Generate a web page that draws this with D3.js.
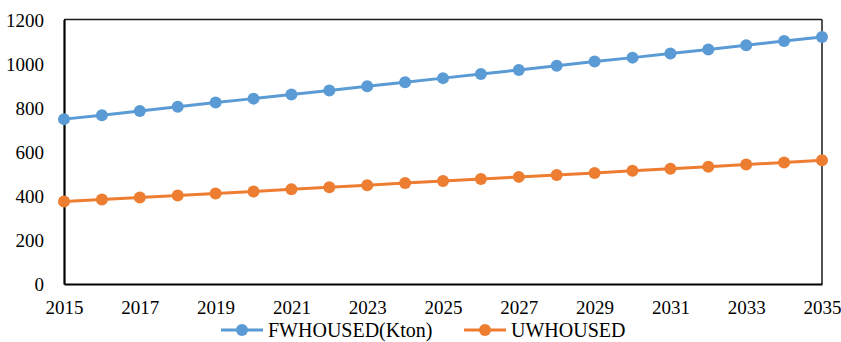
<!DOCTYPE html>
<html>
<head>
<meta charset="utf-8">
<script src="https://cdn.jsdelivr.net/npm/d3@7"></script>
<style>
  html, body { margin: 0; padding: 0; background: #fff; }
  svg { display: block; }
</style>
</head>
<body>
<svg id="chart" width="841" height="342"></svg>
<script>
// Annual series, 2015–2035
const years = d3.range(2015, 2036);
const fwHoused = [748, 766, 785, 804, 823, 841, 860, 878, 897, 915, 934, 953, 971, 990, 1009, 1027, 1046, 1064, 1083, 1102, 1121];
const uwHoused = [374, 383, 392, 402, 411, 420, 430, 439, 448, 458, 467, 476, 486, 495, 504, 514, 523, 532, 542, 551, 561];
const seriesNames = ["FWHOUSED(Kton)", "UWHOUSED"];
const seriesColors = ["#5B9BD5", "#ED7D31"];
const yTicks = [0, 200, 400, 600, 800, 1000, 1200];
const xTicks = d3.range(2015, 2036, 2);

const svg = d3.select("#chart");
const plot = { left: 64, right: 822, top: 19.5, bottom: 284 };
const fontFamily = "Times New Roman, Liberation Serif, serif";

const x = d3.scaleLinear().domain([2015, 2035]).range([plot.left, plot.right]);
const y = d3.scaleLinear().domain([0, 1200]).range([plot.bottom, plot.top]);

// Plot frame
svg.append("line").attr("x1", plot.left).attr("x2", plot.right).attr("y1", plot.top).attr("y2", plot.top)
  .attr("stroke", "#1a1a1a").attr("stroke-width", 1.5);
svg.append("line").attr("x1", plot.right).attr("x2", plot.right).attr("y1", plot.top).attr("y2", plot.bottom)
  .attr("stroke", "#1a1a1a").attr("stroke-width", 1.5);

// Y axis
const yAxis = svg.append("g").attr("transform", `translate(${plot.left},0)`)
  .call(d3.axisLeft(y).tickValues(yTicks).tickSize(0).tickPadding(20).tickFormat(d3.format("d")));
yAxis.attr("font-family", fontFamily).attr("font-size", 19);
yAxis.select(".domain").attr("stroke", "#000").attr("stroke-width", 2.2);
yAxis.selectAll("text").attr("dy", "0.35em").attr("fill", "#000");

// X axis
const xAxis = svg.append("g").attr("transform", `translate(0,${plot.bottom})`)
  .call(d3.axisBottom(x).tickValues(xTicks).tickSize(0).tickPadding(17).tickFormat(d3.format("d")));
xAxis.attr("font-family", fontFamily).attr("font-size", 19);
xAxis.select(".domain").attr("stroke", "#000").attr("stroke-width", 2.2);
xAxis.selectAll("text").attr("fill", "#000");

// Series lines and markers
const allSeries = [fwHoused, uwHoused];
const line = d3.line().x((d, i) => x(years[i])).y(d => y(d));

allSeries.forEach((vals, k) => {
  const g = svg.append("g");
  g.append("path").datum(vals).attr("d", line)
    .attr("fill", "none").attr("stroke", seriesColors[k]).attr("stroke-width", 3);
  g.selectAll("circle").data(vals).join("circle")
    .attr("cx", (d, i) => x(years[i])).attr("cy", d => y(d)).attr("r", 6)
    .attr("fill", seriesColors[k]);
});

// Legend
const legendItems = [
  { x0: 221, name: seriesNames[0], color: seriesColors[0] },
  { x0: 464, name: seriesNames[1], color: seriesColors[1] }
];
const legendY = 330;
legendItems.forEach(it => {
  const g = svg.append("g");
  g.append("line").attr("x1", it.x0).attr("x2", it.x0 + 42).attr("y1", legendY).attr("y2", legendY)
    .attr("stroke", it.color).attr("stroke-width", 3);
  g.append("circle").attr("cx", it.x0 + 21).attr("cy", legendY).attr("r", 6).attr("fill", it.color);
  g.append("text").attr("x", it.x0 + 47).attr("y", legendY).attr("dy", "0.35em")
    .attr("font-family", fontFamily).attr("font-size", 20).attr("fill", "#000").text(it.name);
});
</script>
</body>
</html>
